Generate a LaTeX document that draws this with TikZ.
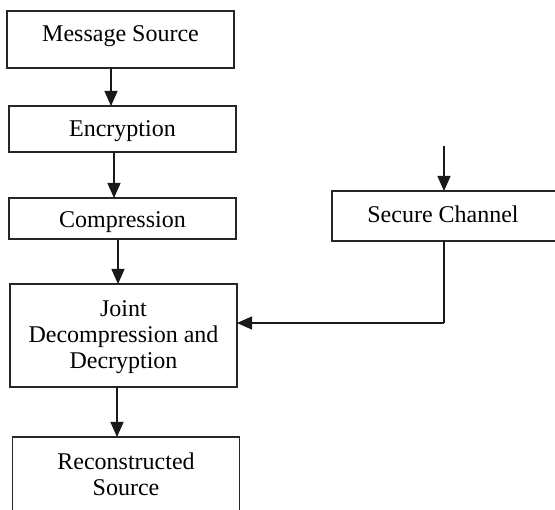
\documentclass[tikz,border=0pt]{standalone}
\usepackage{fontspec}
\setmainfont{Liberation Serif}
\usetikzlibrary{arrows.meta}
\begin{document}
\begin{tikzpicture}[x=1pt,y=-1pt,
  box/.style={draw=black!85,line width=1.4pt,rectangle,inner sep=0pt,outer sep=0pt},
  lbl/.style={inner sep=0pt,outer sep=0pt,font=\fontsize{24}{26}\selectfont,align=center},
  conn/.style={draw=black!90,line width=1.2pt,-{Triangle[length=15pt,width=13pt]}},
  wire/.style={draw=black!90,line width=1.2pt}]
\useasboundingbox (0,0) rectangle (555,510);
% boxes
\node[box,minimum width=227pt,minimum height=57pt] (msg) at (120.5,39.5) {};
\node[box,minimum width=227pt,minimum height=46pt] (enc) at (122.5,129) {};
\node[box,minimum width=227pt,minimum height=41pt] (cmp) at (122.5,218.5) {};
\node[box,minimum width=226pt,minimum height=50pt] (sec) at (445,216) {};
\node[box,minimum width=227pt,minimum height=103pt] (joint) at (123.5,335.5) {};
\node[box,minimum width=227pt,minimum height=78pt] (rec) at (126,476) {};
% texts
\node[lbl,anchor=base] (tmsg) at (120.5,42) {Message Source};
\node[lbl,anchor=base] (tenc) at (122.5,137) {Encryption};
\node[lbl,anchor=base] (tcmp) at (122.5,228) {Compression};
\node[lbl,anchor=base] (tsec) at (443,223) {Secure Channel};
\node[lbl] (tjoint) at (123.5,337.5) {Joint\\Decompression and\\Decryption};
\node[lbl] (trec) at (126,474) {Reconstructed\\Source};
% connector helpers
\coordinate (ax1) at (111,0);
\coordinate (ax2) at (114,0);
\coordinate (ax3) at (118,0);
\coordinate (ax4) at (117,0);
\coordinate (stop) at (444,146);
\coordinate (bend) at (444,323);
% connectors
\draw[conn] (msg.south -| ax1) -- (enc.north -| ax1);
\draw[conn] (enc.south -| ax2) -- (cmp.north -| ax2);
\draw[conn] (cmp.south -| ax3) -- (joint.north -| ax3);
\draw[conn] (joint.south -| ax4) -- (rec.north -| ax4);
\draw[conn] (stop) -- (sec.north -| stop);
\draw[wire] (sec.south -| bend) -- (bend);
\draw[conn] (bend) -- (joint.east |- bend);
\end{tikzpicture}
\end{document}
